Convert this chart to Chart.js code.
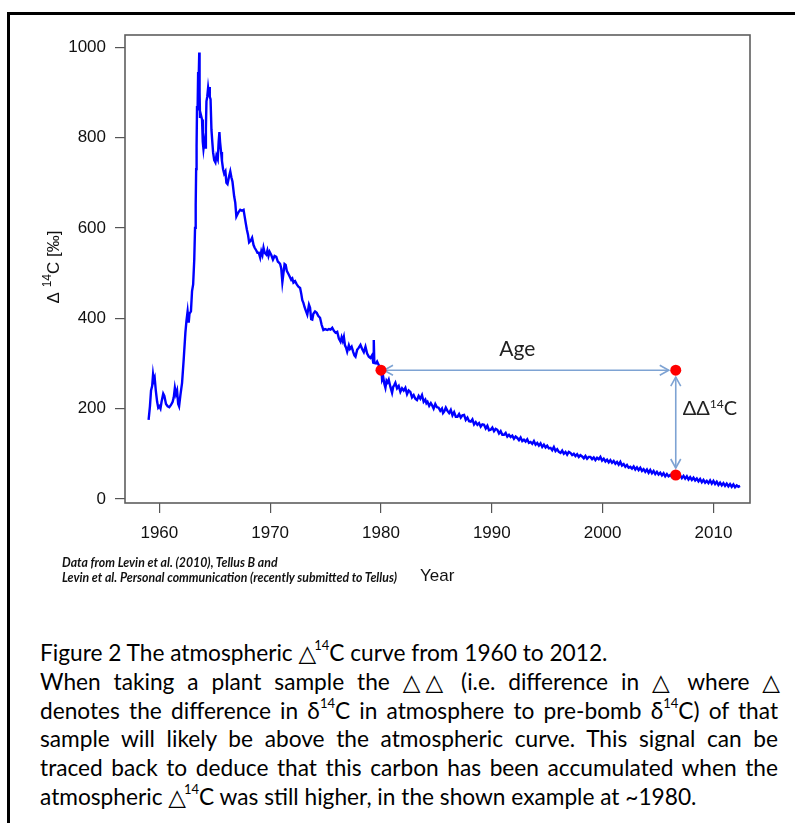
<!DOCTYPE html>
<html>
<head>
<meta charset="utf-8">
<script src="https://cdn.jsdelivr.net/npm/chart.js@4.4.1/dist/chart.umd.min.js"></script>
<style>
  html, body { margin: 0; padding: 0; background: #fff; }
  #page { position: relative; width: 795px; height: 823px; overflow: hidden; }
  #frame { position: absolute; left: 7px; top: 12px; width: 800px; height: 820px;
           border-top: 3px solid #000; border-left: 3px solid #000; }
  #chart { position: absolute; left: 0; top: 0; }
  .note { position: absolute; left: 62px; font: italic bold 12.3px Lato, sans-serif; color: #111; white-space: nowrap; }
  #xtitle { position: absolute; left: 420px; top: 566px; font: 17px "Liberation Sans", Arial, sans-serif; color: #111; }
  #caption { position: absolute; left: 40px; top: 639px; width: 738px; font: 22.7px Lato, sans-serif;
             line-height: 28.8px; color: #000; }
  #caption > div { height: 28.8px; }
  #caption .j { text-align: justify; text-align-last: justify; }
  #caption sup { font-size: 13px; vertical-align: 0; position: relative; top: -11px; line-height: 0; }
  .tri { font-family: "DejaVu Sans", sans-serif; font-size: 23px; line-height: 0; letter-spacing: -2px; }
</style>
</head>
<body>
<div id="page">
  <div id="frame"></div>
  <canvas id="chart" width="795" height="600"></canvas>
  <div class="note" style="top:555px">Data from Levin et al. (2010), Tellus B and</div>
  <div class="note" style="top:570px">Levin et al. Personal communication (recently submitted to Tellus)</div>
  <div id="xtitle">Year</div>
  <div id="caption">
    <div>Figure 2 The atmospheric <span class="tri">△</span><sup>14</sup>C curve from 1960 to 2012.</div>
    <div class="j">When taking a plant sample the <span class="tri">△△</span> (i.e. difference in <span class="tri">△</span> where <span class="tri">△</span></div>
    <div class="j">denotes the difference in δ<sup>14</sup>C in atmosphere to pre-bomb δ<sup>14</sup>C) of that</div>
    <div class="j">sample will likely be above the atmospheric curve. This signal can be</div>
    <div class="j">traced back to deduce that this carbon has been accumulated when the</div>
    <div>atmospheric <span class="tri">△</span><sup>14</sup>C was still higher, in the shown example at ~1980.</div>
  </div>
</div>
<script>
// atmospheric delta-14C record (permil), decimal years
const years = [
  1959.03, 1959.15, 1959.25, 1959.35, 1959.43, 1959.5, 1959.58, 1959.68, 1959.8, 1959.9,
  1960.0, 1960.1, 1960.2, 1960.35, 1960.45, 1960.6, 1960.75, 1960.9, 1961.05, 1961.2,
  1961.3, 1961.4, 1961.5, 1961.6, 1961.7, 1961.78, 1961.9, 1962.05, 1962.2, 1962.35,
  1962.45, 1962.55, 1962.65, 1962.72, 1962.85, 1962.95, 1963.05, 1963.15, 1963.22, 1963.28,
  1963.32, 1963.36, 1963.4, 1963.45, 1963.5, 1963.55, 1963.6, 1963.63, 1963.67, 1963.75,
  1963.85, 1963.92, 1963.98, 1964.05, 1964.12, 1964.2, 1964.25, 1964.32, 1964.4, 1964.45,
  1964.5, 1964.55, 1964.62, 1964.7, 1964.78, 1964.85, 1964.95, 1965.06, 1965.15, 1965.27,
  1965.35, 1965.42, 1965.48, 1965.57, 1965.65, 1965.75, 1965.85, 1965.96, 1966.05, 1966.15,
  1966.3, 1966.4, 1966.5, 1966.6, 1966.75, 1966.85, 1966.95, 1967.05, 1967.15, 1967.3,
  1967.45, 1967.6, 1967.7, 1967.8, 1967.9, 1968.0, 1968.1, 1968.25, 1968.37, 1968.5,
  1968.6, 1968.75, 1968.85, 1968.97, 1969.1, 1969.2, 1969.3, 1969.4, 1969.5, 1969.65,
  1969.75, 1969.85, 1969.95, 1970.1, 1970.25, 1970.4, 1970.55, 1970.7, 1970.8, 1970.9,
  1971.0, 1971.1, 1971.2, 1971.3, 1971.4, 1971.5, 1971.65, 1971.77, 1971.9, 1972.0,
  1972.1, 1972.25, 1972.4, 1972.55, 1972.7, 1972.8, 1972.9, 1973.0, 1973.1, 1973.2,
  1973.35, 1973.5, 1973.6, 1973.7, 1973.8, 1973.9, 1974.05, 1974.2, 1974.35, 1974.5,
  1974.65, 1974.8, 1974.95, 1975.15, 1975.3, 1975.45, 1975.6, 1975.75, 1975.9, 1976.05,
  1976.2, 1976.35, 1976.45, 1976.55, 1976.65, 1976.75, 1976.85, 1976.95, 1977.1, 1977.2,
  1977.35, 1977.5, 1977.6, 1977.7, 1977.85, 1978.0, 1978.15, 1978.3, 1978.45, 1978.6,
  1978.75, 1978.9, 1979.05, 1979.2, 1979.3, 1979.35, 1979.4, 1979.55, 1979.65, 1979.8,
  1979.96, 1980.05, 1980.1, 1980.2, 1980.3, 1980.4, 1980.5, 1980.6, 1980.7, 1980.85,
  1981.0, 1981.1, 1981.2, 1981.3, 1981.45, 1981.6, 1981.75, 1981.9, 1982.05, 1982.2,
  1982.35, 1982.5, 1982.65, 1982.8, 1982.95, 1983.1, 1983.25, 1983.4, 1983.55, 1983.7,
  1983.85, 1984.0, 1984.1, 1984.2, 1984.35, 1984.5, 1984.6, 1984.75, 1984.9, 1985.05,
  1985.2, 1985.35, 1985.5, 1985.6, 1985.7, 1985.85, 1986.0, 1986.15, 1986.3, 1986.45,
  1986.6, 1986.75, 1986.9, 1987.05, 1987.2, 1987.35, 1987.5, 1987.65, 1987.8, 1987.95,
  1988.1, 1988.25, 1988.4, 1988.55, 1988.7, 1988.85, 1989.0, 1989.15, 1989.3, 1989.45,
  1989.6, 1989.75, 1989.9, 1990.05, 1990.2, 1990.35, 1990.5, 1990.65, 1990.8, 1990.95,
  1991.1, 1991.25, 1991.4, 1991.55, 1991.7, 1991.85, 1992.0, 1992.15, 1992.3, 1992.45,
  1992.6, 1992.75, 1992.9, 1993.05, 1993.2, 1993.35, 1993.5, 1993.65, 1993.8, 1993.95,
  1994.1, 1994.25, 1994.4, 1994.55, 1994.7, 1994.85, 1995.0, 1995.15, 1995.3, 1995.45,
  1995.6, 1995.75, 1995.9, 1996.05, 1996.2, 1996.35, 1996.5, 1996.65, 1996.8, 1996.95,
  1997.1, 1997.25, 1997.4, 1997.55, 1997.7, 1997.85, 1998.0, 1998.15, 1998.3, 1998.45,
  1998.6, 1998.75, 1998.9, 1999.05, 1999.2, 1999.35, 1999.5, 1999.65, 1999.8, 1999.95,
  2000.1, 2000.25, 2000.4, 2000.55, 2000.7, 2000.85, 2001.0, 2001.15, 2001.3, 2001.45,
  2001.6, 2001.75, 2001.9, 2002.05, 2002.2, 2002.35, 2002.5, 2002.65, 2002.8, 2002.95,
  2003.1, 2003.25, 2003.4, 2003.55, 2003.7, 2003.85, 2004.0, 2004.15, 2004.3, 2004.45,
  2004.6, 2004.75, 2004.9, 2005.05, 2005.2, 2005.35, 2005.5, 2005.65, 2005.8, 2005.95,
  2006.1, 2006.25, 2006.4, 2006.55, 2006.7, 2006.85, 2007.0, 2007.15, 2007.3, 2007.45,
  2007.6, 2007.75, 2007.9, 2008.05, 2008.2, 2008.35, 2008.5, 2008.65, 2008.8, 2008.95,
  2009.1, 2009.25, 2009.4, 2009.55, 2009.7, 2009.85, 2010.0, 2010.15, 2010.3, 2010.45,
  2010.6, 2010.75, 2010.9, 2011.05, 2011.2, 2011.35, 2011.5, 2011.65, 2011.8, 2011.95,
  2012.1, 2012.25, 2012.4
];
const delta14C = [
  175, 205, 240, 250, 275, 262, 268, 240, 215, 202,
  205, 200, 215, 233, 228, 210, 205, 203, 208, 215,
  225, 246, 232, 240, 210, 205, 230, 257, 310, 368,
  395, 415, 390, 410, 415, 460, 475, 530, 600, 650,
  730, 780, 870, 860, 945, 930, 988, 900, 846, 850,
  840, 790, 775, 790, 778, 820, 880, 890, 910, 900,
  912, 890, 885, 818, 790, 767, 750, 745, 760, 752,
  790, 812, 790, 768, 748, 730, 720, 725, 700, 697,
  715, 725, 712, 702, 670, 656, 625, 630, 635, 640,
  638, 640, 625, 610, 596, 585, 568, 572, 578, 562,
  556, 550, 545, 545, 534, 548, 540, 556, 545, 541,
  550, 538, 547, 540, 530, 538, 536, 525, 523, 520,
  510, 480, 500, 520, 518, 505, 498, 492, 485, 488,
  479, 482, 475, 470, 467, 455, 440, 434, 425, 418,
  408, 430, 423, 398, 397, 410, 415, 412, 405, 401,
  385, 374, 376, 374, 376, 375, 379, 372, 368, 370,
  355, 348, 358, 350, 359, 340, 335, 326, 340, 332,
  337, 325, 318, 315, 330, 335, 341, 332, 325, 337,
  322, 315, 312, 318, 302, 352, 301, 300, 304, 296,
  290, 282, 264, 270, 255, 246, 262, 258, 264, 248,
  235, 248, 252, 257, 245, 250, 237, 245, 240, 246,
  232, 240, 237, 225, 230, 222, 219, 228, 222, 230,
  215, 220, 212, 215, 206, 212, 208, 200, 210, 203,
  202, 195, 200, 190, 193, 202, 195, 190, 197, 185,
  192, 182, 182, 188, 180, 185, 186, 175, 180, 172,
  171, 176, 165, 170, 164, 168, 160, 165, 164, 156,
  162, 152, 153, 158, 150, 155, 153, 145, 150, 142,
  142, 146, 138, 142, 137, 140, 133, 138, 135, 130,
  136, 128, 131, 127, 132, 124, 126, 122, 128, 120,
  124, 118, 123, 115, 120, 114, 118, 112, 113, 108,
  115, 106, 110, 104, 102, 107, 100, 104, 98, 104,
  102, 97, 100, 95, 99, 93, 97, 94, 90, 95,
  89, 93, 93, 88, 92, 86, 91, 88, 93, 85,
  89, 83, 87, 81, 86, 80, 84, 78, 82, 76,
  82, 74, 77, 71, 75, 69, 71, 67, 72, 65,
  70, 64, 69, 62, 66, 60, 65, 58, 64, 57,
  62, 55, 60, 54, 58, 52, 57, 50, 55, 50,
  53, 49, 54, 52, 56, 48, 52, 46, 51, 45,
  50, 43, 48, 42, 47, 41, 45, 39, 44, 37,
  42, 36, 40, 35, 41, 34, 40, 33, 38, 31,
  36, 30, 35, 29, 34, 28, 33, 27, 32, 26,
  30, 27, 29
];

// sample point, its matching atmosphere level in 1980 and the present-day atmosphere
const markerYears = [1980, 2006.6, 2006.6];
const markerValues = [285, 285, 53];

const xTicks = [1960, 1970, 1980, 1990, 2000, 2010];
const yTicks = [0, 200, 400, 600, 800, 1000];

const curvePoints = years.map((y, i) => ({ x: y, y: delta14C[i] }));
const markerPoints = markerYears.map((y, i) => ({ x: y, y: markerValues[i] }));

const arrowColor = '#7ea3d3';

function chevron(ctx, x, y, dx, dy) {
  // open arrow head pointing along (dx, dy)
  const len = 9, half = 5;
  const px = -dy, py = dx;
  ctx.beginPath();
  ctx.moveTo(x - dx * len + px * half, y - dy * len + py * half);
  ctx.lineTo(x, y);
  ctx.lineTo(x - dx * len - px * half, y - dy * len - py * half);
  ctx.stroke();
}

const decorations = {
  id: 'decorations',
  beforeDatasetsDraw(chart) {
    const { ctx, scales: { x, y } } = chart;
    const ax = x.getPixelForValue(markerYears[0]), ay = y.getPixelForValue(markerValues[0]);
    const bx = x.getPixelForValue(markerYears[1]), by = y.getPixelForValue(markerValues[1]);
    const cy = y.getPixelForValue(markerValues[2]);
    ctx.save();
    ctx.strokeStyle = arrowColor;
    ctx.lineWidth = 1.6;
    // Age arrow
    ctx.beginPath();
    ctx.moveTo(ax + 3, ay);
    ctx.lineTo(bx - 7, by);
    ctx.stroke();
    chevron(ctx, ax + 3, ay, -1, 0);
    chevron(ctx, bx - 7, by, 1, 0);
    // delta-delta arrow
    ctx.beginPath();
    ctx.moveTo(bx, by + 7);
    ctx.lineTo(bx, cy - 7);
    ctx.stroke();
    chevron(ctx, bx, by + 7, 0, -1);
    chevron(ctx, bx, cy - 7, 0, 1);

    ctx.fillStyle = '#222';
    ctx.font = '21px Lato, sans-serif';
    ctx.textAlign = 'center';
    ctx.textBaseline = 'alphabetic';
    ctx.fillText('Age', x.getPixelForValue(1992.3), y.getPixelForValue(317));
    ctx.textAlign = 'left';
    const tx = bx + 7, ty = y.getPixelForValue(186);
    ctx.font = '20px Lato, sans-serif';
    ctx.fillText('ΔΔ', tx, ty);
    let w = ctx.measureText('ΔΔ').width;
    ctx.font = '12px Lato, sans-serif';
    ctx.fillText('14', tx + w, ty - 7);
    w += ctx.measureText('14').width;
    ctx.font = '20px Lato, sans-serif';
    ctx.fillText('C', tx + w, ty);
    ctx.restore();
  },
  afterDraw(chart) {
    const { ctx, chartArea: a } = chart;
    ctx.save();
    ctx.strokeStyle = '#5e5e5e';
    ctx.lineWidth = 1.6;
    ctx.strokeRect(a.left, a.top, a.right - a.left, a.bottom - a.top);

    // rotated y axis title
    ctx.translate(59, 267);
    ctx.rotate(-Math.PI / 2);
    ctx.fillStyle = '#111';
    ctx.textBaseline = 'alphabetic';
    ctx.textAlign = 'left';
    const big = '17px "Liberation Sans", Arial, sans-serif';
    const small = '12px "Liberation Sans", Arial, sans-serif';
    ctx.font = big;
    const w1 = ctx.measureText('Δ ').width, w3 = ctx.measureText('C [‰]').width;
    ctx.font = small;
    const w2 = ctx.measureText('14').width;
    let sx = -(w1 + w2 + w3) / 2;
    ctx.font = big;
    ctx.fillText('Δ ', sx, 0);
    sx += w1;
    ctx.font = small;
    ctx.fillText('14', sx, -8);
    sx += w2;
    ctx.font = big;
    ctx.fillText('C [‰]', sx, 0);
    ctx.restore();
  }
};

const tickFont = { family: '"Liberation Sans", Arial, sans-serif', size: 17 };

new Chart(document.getElementById('chart').getContext('2d'), {
  type: 'scatter',
  data: {
    datasets: [
      {
        data: markerPoints,
        showLine: false,
        pointRadius: 5.5,
        pointBackgroundColor: '#ff0000',
        pointBorderWidth: 0
      },
      {
        data: curvePoints,
        showLine: true,
        borderColor: '#0000ff',
        borderWidth: 2.4,
        pointRadius: 0,
        tension: 0
      }
    ]
  },
  options: {
    responsive: false,
    animation: false,
    devicePixelRatio: 1,
    layout: { padding: { left: 0, top: 35, right: 45, bottom: 0 } },
    plugins: { legend: { display: false }, tooltip: { enabled: false } },
    scales: {
      x: {
        type: 'linear',
        min: 1956.9,
        max: 2013.3,
        afterBuildTicks: s => { s.ticks = xTicks.map(v => ({ value: v })); },
        afterFit: s => { s.height = 97; },
        grid: { drawOnChartArea: false, drawTicks: true, tickLength: 10, color: '#555', lineWidth: 1.2 },
        border: { display: false },
        ticks: { font: tickFont, color: '#111', padding: 10, maxRotation: 0, callback: v => String(v) }
      },
      y: {
        min: -9,
        max: 1027,
        afterBuildTicks: s => { s.ticks = yTicks.map(v => ({ value: v })); },
        afterFit: s => { s.width = 125; },
        grid: { drawOnChartArea: false, drawTicks: true, tickLength: 10, color: '#555', lineWidth: 1.2 },
        border: { display: false },
        ticks: { font: tickFont, color: '#111', padding: 9, callback: v => String(v) }
      }
    }
  },
  plugins: [decorations]
});
</script>
</body>
</html>
